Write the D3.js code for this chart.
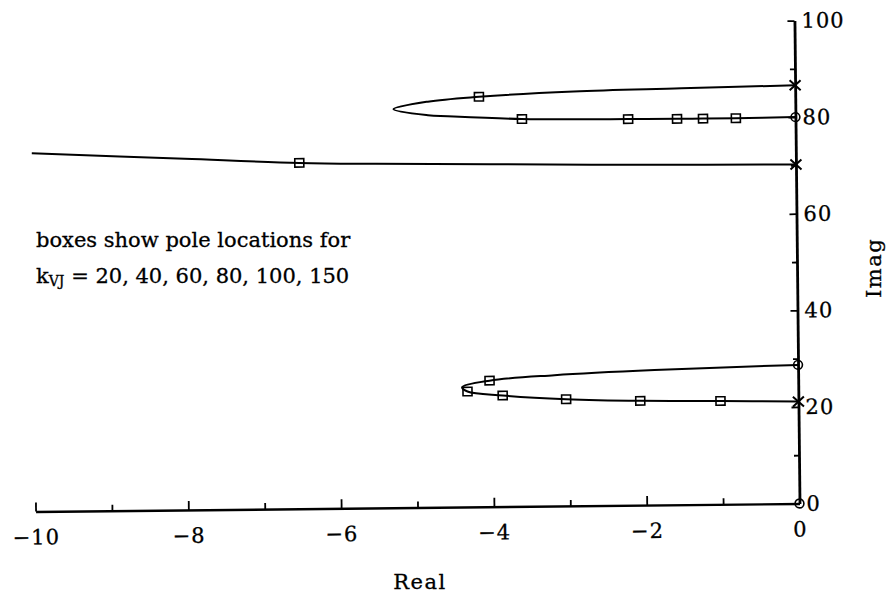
<!DOCTYPE html>
<html>
<head>
<meta charset="utf-8">
<script src="https://cdn.jsdelivr.net/npm/d3@7"></script>
<style>
  html, body { margin: 0; padding: 0; background: #fff; }
  svg { display: block; }
  text { stroke: #000; stroke-width: 0.3px; }
</style>
</head>
<body>
<script>
// Root locus: pole trajectories as kvJ increases (real part vs imaginary part)
const realTicks = [-10, -8, -6, -4, -2, 0];
const realMinor = [-9, -7, -5, -3, -1];
const imagTicks = [0, 20, 40, 60, 80, 100];
const imagMinor = [10, 30, 50, 70, 90];
const gains = [20, 40, 60, 80, 100, 150];

// open-loop poles (x) and zeros (o), [real, imag]
const poles = [[0, 86.6], [0, 70.2], [0, 21.1]];
const zeros = [[0, 80], [0, 28.7], [0, 0]];

// branch leaving the pole near j86.6 and closing on the zero at j80
const upperLoop = [
  [0, 86.6], [-1.49, 86.2], [-2.9, 85.8], [-4.14, 84.9], [-4.81, 84.0],
  [-5.26, 82.5], [-4.81, 81.2], [-4.55, 80.95], [-3.58, 80.2], [-2.8, 80.0],
  [-2.19, 79.95], [-1.55, 79.9], [-1.21, 79.9], [-0.78, 79.9], [0, 80]
];
// branch leaving the pole near j70 towards the left
const longBranch = [
  [0, 70.2], [-2, 70.45], [-4, 70.9], [-5.5, 71.25], [-6.5, 71.6],
  [-8, 72.7], [-10, 74.2]
];
// branch leaving the pole near j21 and closing on the zero at j28.7
const lowerLoop = [
  [0, 21.1], [-1.02, 21.4], [-2.07, 21.6], [-3.04, 22.1], [-3.87, 23.0],
  [-4.33, 23.9], [-4.40, 24.8], [-4.04, 26.1], [-3.19, 27.1], [-1.88, 27.95],
  [0, 28.7]
];

// closed-loop pole positions at each gain in `gains`
const upperLoopBoxes = [[-4.14, 84.9], [-3.58, 80.2], [-2.19, 79.95], [-1.55, 79.9], [-1.21, 79.9], [-0.78, 79.9]];
const longBranchBoxes = [[-6.5, 71.6]];
const lowerLoopBoxes = [[-1.02, 21.4], [-2.07, 21.6], [-3.04, 22.1], [-3.87, 23.0], [-4.33, 23.9], [-4.04, 26.1]];

const W = 892, H = 598;
const serif = "'DejaVu Serif', 'Liberation Serif', serif";

const svg = d3.select("body").append("svg")
  .attr("width", W).attr("height", H)
  .attr("viewBox", `0 0 ${W} ${H}`);
svg.append("rect").attr("width", W).attr("height", H).attr("fill", "#fff");

// plot frame: origin of the axes sits at the bottom-right corner
const ox = 799.5, oy = 503.5, tilt = -0.6;
const x = d3.scaleLinear().domain([-10, 0]).range([-764, 0]);
const y = d3.scaleLinear().domain([0, 100]).range([0, -483]);

const g = svg.append("g").attr("transform", `translate(${ox},${oy}) rotate(${tilt})`);

function styleAxis(sel, width) {
  sel.select(".domain").attr("stroke", "#000").attr("stroke-width", width);
  sel.selectAll(".tick line").attr("stroke", "#000").attr("stroke-width", 1.8);
  sel.selectAll(".tick text")
    .attr("fill", "#000")
    .attr("font-family", serif)
    .attr("font-size", 21)
    .attr("letter-spacing", "1px");
  sel.attr("font-family", null).attr("font-size", null);
}

// real axis
const xAxis = g.append("g").call(
  d3.axisBottom(x).tickValues(realTicks).tickSize(-9).tickSizeOuter(0)
    .tickPadding(18).tickFormat(d3.format("d"))
);
styleAxis(xAxis, 2.4);
const xMinor = g.append("g").call(
  d3.axisBottom(x).tickValues(realMinor).tickSize(-6).tickSizeOuter(0).tickFormat(() => "")
);
xMinor.select(".domain").remove();
styleAxis(xMinor, 0);

// imaginary axis on the right edge
const yAxis = g.append("g").call(
  d3.axisRight(y).tickValues(imagTicks).tickSize(-7).tickSizeOuter(0)
    .tickPadding(7).tickFormat(d3.format("d"))
);
styleAxis(yAxis, 2.8);
const yMinor = g.append("g").call(
  d3.axisRight(y).tickValues(imagMinor).tickSize(-5).tickSizeOuter(0).tickFormat(() => "")
);
yMinor.select(".domain").remove();
styleAxis(yMinor, 0);

// locus branches
const line = d3.line()
  .x(d => x(d[0])).y(d => y(d[1]))
  .curve(d3.curveCatmullRom.alpha(0.5));

[upperLoop, longBranch, lowerLoop].forEach(branch => {
  g.append("path")
    .attr("d", line(branch))
    .attr("fill", "none")
    .attr("stroke", "#000")
    .attr("stroke-width", 2)
    .attr("stroke-linejoin", "round");
});

// boxes at the listed gains
const boxes = upperLoopBoxes.concat(longBranchBoxes, lowerLoopBoxes);
g.selectAll("rect.box").data(boxes).join("rect")
  .attr("class", "box")
  .attr("x", d => x(d[0]) - 4.5).attr("y", d => y(d[1]) - 4.2)
  .attr("width", 9).attr("height", 8.4)
  .attr("fill", "none").attr("stroke", "#000").attr("stroke-width", 1.6);

// poles
g.selectAll("path.pole").data(poles).join("path")
  .attr("class", "pole")
  .attr("transform", d => `translate(${x(d[0])},${y(d[1])})`)
  .attr("d", "M-5.5,-5L5.5,5M-5.5,5L5.5,-5")
  .attr("stroke", "#000").attr("stroke-width", 2).attr("fill", "none");

// zeros
g.selectAll("circle.zero").data(zeros).join("circle")
  .attr("class", "zero")
  .attr("cx", d => x(d[0])).attr("cy", d => y(d[1])).attr("r", 4.4)
  .attr("fill", "none").attr("stroke", "#000").attr("stroke-width", 1.6);

// axis titles
svg.append("text")
  .attr("x", 420).attr("y", 589)
  .attr("text-anchor", "middle")
  .attr("font-family", serif).attr("font-size", 21).attr("fill", "#000")
  .attr("letter-spacing", "1.5px")
  .text("Real");
svg.append("text")
  .attr("transform", "translate(881,268) rotate(-90)")
  .attr("text-anchor", "middle")
  .attr("font-family", serif).attr("font-size", 21).attr("fill", "#000")
  .attr("letter-spacing", "1.5px")
  .text("Imag");

// annotation
svg.append("text")
  .attr("x", 36).attr("y", 247)
  .attr("font-family", serif).attr("font-size", 21).attr("fill", "#000")
  .text("boxes show pole locations for");
const note = svg.append("text")
  .attr("x", 36).attr("y", 283)
  .attr("font-family", serif).attr("font-size", 21).attr("fill", "#000");
note.append("tspan").text("k");
note.append("tspan").attr("font-size", 14).attr("dy", 3).text("VJ");
note.append("tspan").attr("dy", -3).text(" = " + gains.join(", "));
</script>
</body>
</html>
